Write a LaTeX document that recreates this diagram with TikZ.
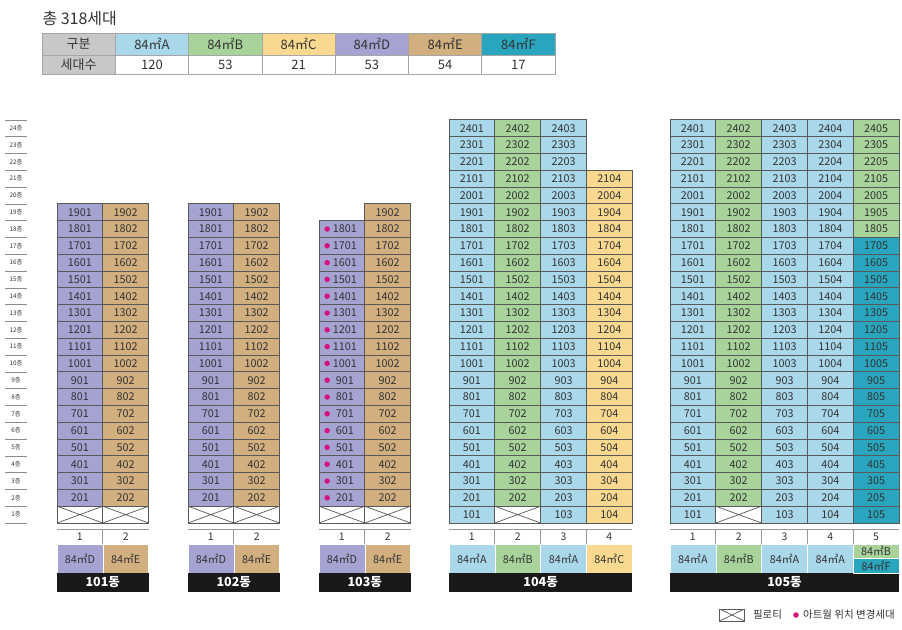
\documentclass[tikz,border=0pt]{standalone}
\usepackage{fontspec}
\setmainfont{Noto Sans CJK KR}
\usetikzlibrary{positioning}

\definecolor{typeA}{HTML}{A9D8EB}
\definecolor{typeB}{HTML}{A8D49C}
\definecolor{typeC}{HTML}{F8D98F}
\definecolor{typeD}{HTML}{A4A3D2}
\definecolor{typeE}{HTML}{D1AF7F}
\definecolor{typeF}{HTML}{29A6BE}
\definecolor{artwall}{HTML}{D4147C}
\definecolor{headgray}{HTML}{C8C8C8}
\definecolor{txt}{HTML}{333333}

\tikzset{
  unit/.style={draw=black!65, line width=0.7pt, minimum width=45.8pt, minimum height=16.8pt,
    inner sep=0pt, font=\fontsize{10.8}{10.8}\selectfont, text=txt},
  piloti/.style={unit, fill=white, path picture={
    \draw[black!65, line width=0.7pt] (path picture bounding box.north west) -- (path picture bounding box.south east)
      (path picture bounding box.north east) -- (path picture bounding box.south west);}},
  tcell/.style={draw=black!35, line width=0.8pt, minimum width=73.3pt, inner sep=0pt,
    font=\fontsize{13}{13}\selectfont, text=txt},
  floorlbl/.style={font=\fontsize{6.3}{6.3}\selectfont, text=txt, inner sep=0pt},
  floorline/.style={draw=black!45, line width=0.6pt},
  baseline/.style={draw=black!40, line width=1.8pt},
  sepline/.style={draw=black!40, line width=0.7pt},
  numcell/.style={minimum width=45.8pt, minimum height=14pt, inner sep=0pt,
    font=\fontsize{10.5}{10.5}\selectfont, text=txt},
  typecell/.style={draw=white, line width=0.6pt, minimum width=45.8pt, minimum height=29pt,
    inner sep=0pt, font=\fontsize{10.8}{10.8}\selectfont, text=txt},
  dongbar/.style={fill=black!90, minimum height=19pt, inner sep=0pt, text=white,
    font=\fontsize{12.5}{12.5}\selectfont\bfseries},
  artdot/.style={circle, fill=artwall, minimum size=5.5pt, inner sep=0pt},
  legendtxt/.style={font=\fontsize{10.5}{10.5}\selectfont, text=txt, inner sep=0pt}
}

% one column of units: building, left edge, column, first floor, last floor, colour
\newcommand{\unitcol}[6]{%
  \foreach \f in {#4,...,#5}
    \node[unit, fill=#6] (u#1-\f-#3) at ({#2+(#3-0.5)*45.8}, {523-(\f-0.5)*16.8}) {\f0#3};
}
% pilotis on the first floor
\newcommand{\piloticell}[3]{%
  \node[piloti] (u#1-1-#3) at ({#2+(#3-0.5)*45.8}, 514.6) {};
}
% line numbers, unit types and the name bar under a building
\newcommand{\dongbase}[4]{%
  \draw[baseline] (#2,529.5) -- ({#2+#3*45.8},529.5);
  \foreach \c in {1,...,#3} {
    \node[numcell] (n#1-\c) at ({#2+(\c-0.5)*45.8}, 537) {\c};
    \ifnum\c>1 \draw[sepline] (n#1-\c.north west) -- (n#1-\c.south west); \fi
  }
  \foreach \t [count=\c] in {#4}
    \node[typecell, fill=type\t] (t#1-\c) at ({#2+(\c-0.5)*45.8}, 558.5) {84㎡\t};
  \node[dongbar, minimum width=#3*45.8pt] (d#1) at ({#2+#3*45.8/2}, 582.5) {#1{}동};
}

\begin{document}
\begin{tikzpicture}[x=1pt, y=-1pt]
  \useasboundingbox (0,0) rectangle (902,629);

  % summary table
  \node [anchor=west, font=\fontsize{16}{16}\selectfont, text=txt] (title) at (39,18) {총 318세대};
  \node [tcell, fill=headgray, minimum height=22pt] (h0) at (78.6,44) {구분};
  \node [tcell, fill=headgray, minimum height=19pt] (v0) at (78.6,64.5) {세대수};
  \foreach \t/\n [count=\c] in {A/120,B/53,C/21,D/53,E/54,F/17} {
    \node [tcell, fill=type\t, minimum height=22pt] (h\t) at ({115.3+(\c-0.5)*73.3}, 44) {84㎡\t};
    \node [tcell, fill=white, minimum height=19pt] (v\t) at ({115.3+(\c-0.5)*73.3}, 64.5) {\n};
  }

  % floor scale
  \foreach \k in {0,...,24}
    \draw [floorline] (5,{523-\k*16.8}) -- (27,{523-\k*16.8});
  \foreach \f in {1,...,24}
    \node [floorlbl] (fl\f) at (16,{523-(\f-0.5)*16.8}) {\f{}층};

  % 101
  \unitcol{101}{57}{1}{2}{19}{typeD}
  \unitcol{101}{57}{2}{2}{19}{typeE}
  \piloticell{101}{57}{1}
  \piloticell{101}{57}{2}
  \dongbase{101}{57}{2}{D,E}

  % 102
  \unitcol{102}{188}{1}{2}{19}{typeD}
  \unitcol{102}{188}{2}{2}{19}{typeE}
  \piloticell{102}{188}{1}
  \piloticell{102}{188}{2}
  \dongbase{102}{188}{2}{D,E}

  % 103 (art wall moved in line 1)
  \foreach \f in {2,...,18} {
    \node [unit, fill=typeD] (u103-\f-1) at (341.9,{523-(\f-0.5)*16.8}) {\hspace{6pt}\f01};
    \node [artdot] (a103-\f) at ([xshift=8.5pt]u103-\f-1.west) {};
  }
  \unitcol{103}{319}{2}{2}{19}{typeE}
  \piloticell{103}{319}{1}
  \piloticell{103}{319}{2}
  \dongbase{103}{319}{2}{D,E}

  % 104
  \unitcol{104}{449}{1}{1}{24}{typeA}
  \unitcol{104}{449}{2}{2}{24}{typeB}
  \piloticell{104}{449}{2}
  \unitcol{104}{449}{3}{1}{24}{typeA}
  \unitcol{104}{449}{4}{1}{21}{typeC}
  \dongbase{104}{449}{4}{A,B,A,C}

  % 105
  \unitcol{105}{670}{1}{1}{24}{typeA}
  \unitcol{105}{670}{2}{2}{24}{typeB}
  \piloticell{105}{670}{2}
  \unitcol{105}{670}{3}{1}{24}{typeA}
  \unitcol{105}{670}{4}{1}{24}{typeA}
  \unitcol{105}{670}{5}{1}{17}{typeF}
  \unitcol{105}{670}{5}{18}{24}{typeB}
  \dongbase{105}{670}{5}{A,B,A,A}
  \node [typecell, fill=typeB, minimum height=14.5pt] (t105-5b) at (876.1,551.25) {84㎡B};
  \node [typecell, fill=typeF, minimum height=14.5pt] (t105-5f) at (876.1,565.75) {84㎡F};

  % legend
  \node [piloti, minimum width=25pt, minimum height=12pt] (lgp) at (732,615) {};
  \node [legendtxt, right=8pt of lgp] (lgpt) {필로티};
  \node [artdot] (lgd) at (796,615) {};
  \node [legendtxt, right=4pt of lgd] (lgdt) {아트월 위치 변경세대};
\end{tikzpicture}
\end{document}
